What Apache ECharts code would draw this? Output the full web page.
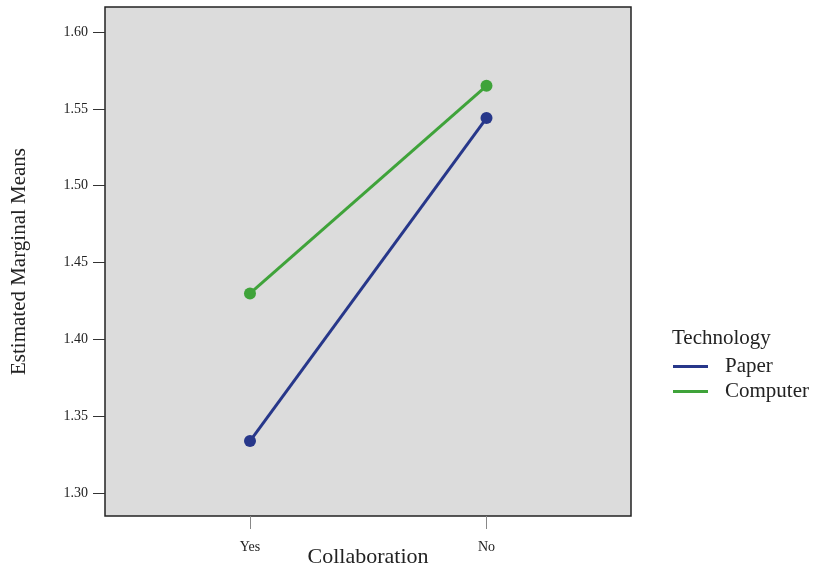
<!DOCTYPE html>
<html>
<head>
<meta charset="utf-8">
<script src="https://cdn.jsdelivr.net/npm/echarts@6/dist/echarts.min.js"></script>
<style>
  body { margin: 0; background: #fff; }
  #chart { width: 815px; height: 565px; }
</style>
</head>
<body>
<div id="chart"></div>
<script>
// 数据
const categories = ["Yes", "No"];
const paper = [1.334, 1.544];
const computer = [1.430, 1.565];
const yTicks = [1.30, 1.35, 1.40, 1.45, 1.50, 1.55, 1.60];

const serif = "Liberation Serif";
const chart = echarts.init(document.getElementById("chart"));

// x 用数值轴, 0 和 1 对应两个类别
const toPoints = (arr) => arr.map((v, i) => [i, v]);

const option = {
  animation: false,
  title: {
    text: "Technology",
    left: 667,
    top: 323,
    textStyle: { fontFamily: serif, fontSize: 21, fontWeight: "normal", color: "#222" },
  },
  legend: {
    orient: "vertical",
    left: 668,
    top: 351,
    icon: "rect",
    itemWidth: 35,
    itemHeight: 3,
    itemGap: 4,
    textStyle: { fontFamily: serif, fontSize: 21, color: "#222", padding: [0, 0, 0, 12] },
    data: ["Paper", "Computer"],
  },
  grid: {
    left: 105,
    top: 7,
    right: 184,
    bottom: 49,
    outerBoundsMode: "none",
    containLabel: false,
    show: true,
    backgroundColor: "#dcdcdc",
    borderColor: "#222",
    borderWidth: 1.5,
  },
  xAxis: {
    type: "value",
    min: -0.613,
    max: 1.611,
    name: "Collaboration",
    nameLocation: "middle",
    nameGap: 30,
    nameMoveOverlap: false,
    nameTextStyle: { fontFamily: serif, fontSize: 22, color: "#222" },
    axisLine: { show: false, onZero: false },
    splitLine: { show: false },
    axisTick: {
      show: true,
      customValues: [0, 1],
      length: 13,
      lineStyle: { color: "#888", width: 1 },
    },
    axisLabel: {
      customValues: [0, 1],
      margin: 24,
      fontFamily: serif,
      fontSize: 14,
      color: "#222",
      formatter: (v) => categories[Math.round(v)],
    },
  },
  yAxis: {
    type: "value",
    min: 1.2853,
    max: 1.6162,
    name: "Estimated Marginal Means",
    nameLocation: "middle",
    nameGap: 75,
    nameTextStyle: { fontFamily: serif, fontSize: 21, color: "#222" },
    axisLine: { show: false, onZero: false },
    splitLine: { show: false },
    axisTick: {
      show: true,
      customValues: yTicks,
      length: 12,
      lineStyle: { color: "#333", width: 1 },
    },
    axisLabel: {
      customValues: yTicks,
      margin: 17,
      fontFamily: serif,
      fontSize: 14,
      color: "#222",
      formatter: (v) => v.toFixed(2),
    },
  },
  series: [
    {
      name: "Paper",
      type: "line",
      data: toPoints(paper),
      symbol: "circle",
      symbolSize: 12,
      color: "#27378a",
      lineStyle: { width: 3 },
    },
    {
      name: "Computer",
      type: "line",
      data: toPoints(computer),
      symbol: "circle",
      symbolSize: 12,
      color: "#3fa33a",
      lineStyle: { width: 3 },
    },
  ],
};
chart.setOption(option);
</script>
</body>
</html>
